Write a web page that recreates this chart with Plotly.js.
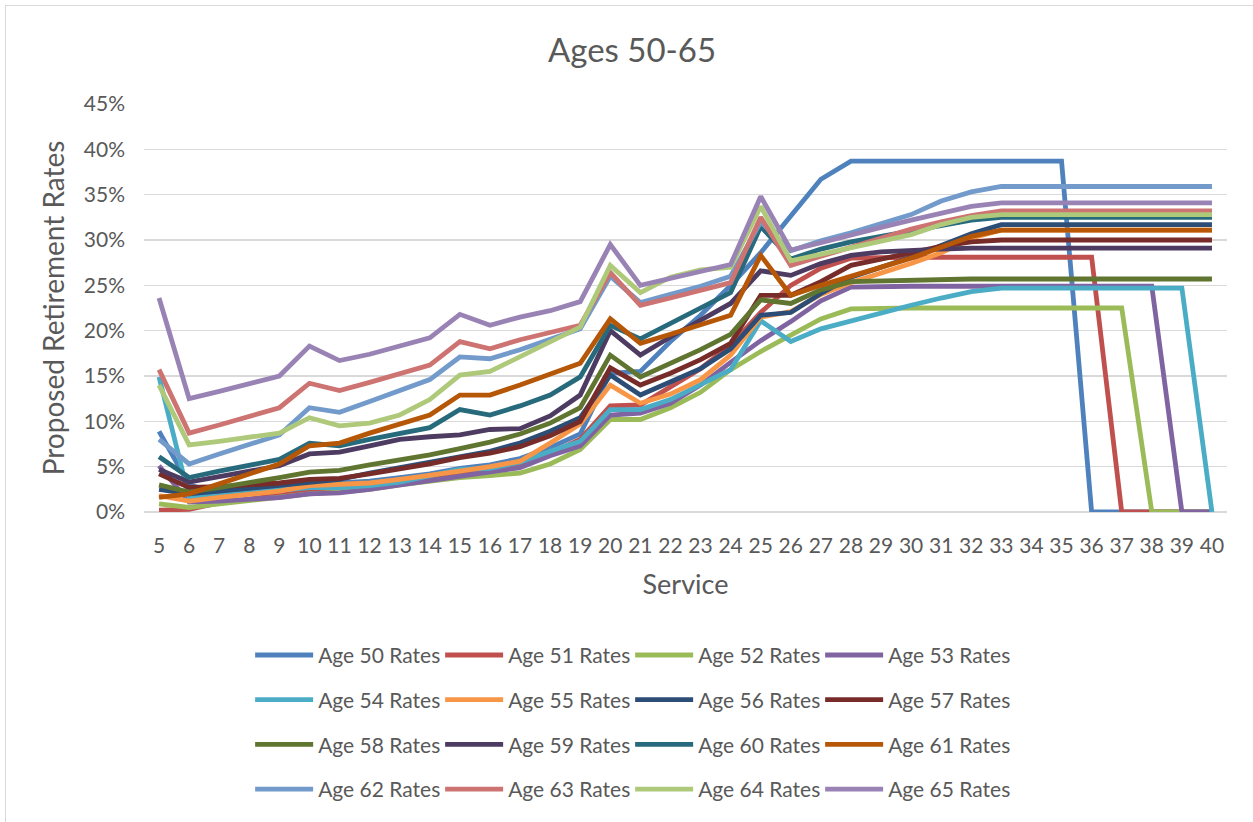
<!DOCTYPE html>
<html><head><meta charset="utf-8">
<script src="https://cdn.plot.ly/plotly-3.0.1.min.js"></script>
<style>
html,body{margin:0;padding:0;background:#fff;}
#chart{width:1253px;height:822px;position:absolute;left:0;top:0;}
.bl{position:absolute;background:#d9d9d9;}
</style>
</head><body>
<div class="bl" style="left:5px;top:5px;width:1px;height:817px"></div>
<div class="bl" style="left:5px;top:5px;width:1248px;height:1px"></div>
<div id="chart"></div>
<script>
const service = [5,6,7,8,9,10,11,12,13,14,15,16,17,18,19,20,21,22,23,24,25,26,27,28,29,30,31,32,33,34,35,36,37,38,39,40];
const serviceLabels = ["5","6","7","8","9","10","11","12","13","14","15","16","17","18","19","20","21","22","23","24","25","26","27","28","29","30","31","32","33","34","35","36","37","38","39","40"];
const seriesNames = ["Age 50 Rates","Age 51 Rates","Age 52 Rates","Age 53 Rates","Age 54 Rates","Age 55 Rates","Age 56 Rates","Age 57 Rates","Age 58 Rates","Age 59 Rates","Age 60 Rates","Age 61 Rates","Age 62 Rates","Age 63 Rates","Age 64 Rates","Age 65 Rates"];
const seriesColors = ["#4F81BD","#C0504D","#9BBB59","#8064A2","#4BACC6","#F79646","#2C4D75","#772C2A","#5F7530","#4D3B62","#276A7C","#B65708","#729ACA","#CD7371","#AFC97A","#9983B5"];

// rates in percent
const age50 = [8.9,3.0,2.0,2.4,2.8,3.1,3.2,3.4,3.8,4.2,4.8,5.2,5.9,7.1,8.6,15.3,15.5,18.8,21.7,25.0,28.6,32.6,36.7,38.7,38.7,38.7,38.7,38.7,38.7,38.7,38.7,0,0,0,0,0];
const age51 = [0.2,0.3,1.0,1.4,1.8,2.3,2.5,2.8,3.2,3.8,4.4,4.6,5.2,6.5,8.0,11.7,11.8,13.8,15.8,18.4,22.0,25.0,26.9,28.0,28.1,28.1,28.1,28.1,28.1,28.1,28.1,28.1,0,0,0,0];
const age52 = [0.9,0.5,0.9,1.3,1.6,2.0,2.2,2.5,3.0,3.4,3.8,4.0,4.3,5.3,6.9,10.2,10.2,11.5,13.2,15.7,17.7,19.5,21.3,22.4,22.5,22.5,22.5,22.5,22.5,22.5,22.5,22.5,22.5,0,0,0];
const age53 = [5.1,1.1,1.2,1.4,1.6,2.0,2.1,2.5,3.0,3.5,4.0,4.4,4.9,6.2,7.3,10.7,10.9,12.0,14.0,16.5,18.9,21.0,23.3,24.8,24.9,24.9,24.9,24.9,24.9,24.9,24.9,24.9,24.9,24.9,0,0];
const age54 = [14.9,1.6,1.8,2.1,2.4,2.7,2.7,2.9,3.3,4.0,4.7,4.8,5.5,6.7,7.8,11.3,11.3,12.4,14.0,15.7,21.1,18.8,20.2,21.1,22.0,22.8,23.6,24.3,24.7,24.7,24.7,24.7,24.7,24.7,24.7,0];
const age55 = [1.8,1.2,1.6,1.9,2.3,2.9,3.0,3.2,3.6,4.0,4.5,5.0,5.6,7.6,9.7,14.0,12.0,13.0,14.6,17.3,21.5,22.1,24.0,25.3,26.3,27.4,28.6,30.2,31.1,31.1,31.1,31.1,31.1,31.1,31.1,31.1];
const age56 = [2.5,2.0,2.3,2.6,2.9,3.3,3.6,4.3,4.9,5.5,6.2,6.7,7.6,8.9,10.4,15.1,12.9,14.3,15.8,18.0,21.7,22.0,24.1,25.9,27.0,28.1,29.4,30.7,31.7,31.7,31.7,31.7,31.7,31.7,31.7,31.7];
const age57 = [4.2,2.7,2.8,3.0,3.2,3.6,3.7,4.2,4.7,5.3,6.0,6.5,7.2,8.4,10.0,15.9,14.0,15.3,16.8,18.6,23.9,23.9,25.4,27.2,27.9,28.6,29.3,29.8,30.0,30.0,30.0,30.0,30.0,30.0,30.0,30.0];
const age58 = [3.0,2.2,2.7,3.2,3.8,4.4,4.6,5.2,5.7,6.3,7.0,7.7,8.6,9.8,11.5,17.3,14.9,16.4,17.9,19.6,23.4,23.0,24.5,25.4,25.5,25.5,25.6,25.7,25.7,25.7,25.7,25.7,25.7,25.7,25.7,25.7];
const age59 = [4.7,3.3,3.9,4.5,5.1,6.4,6.6,7.3,8.0,8.3,8.5,9.1,9.2,10.6,12.9,20.0,17.3,19.3,21.2,23.0,26.6,26.1,27.4,28.3,28.7,28.9,29.0,29.1,29.1,29.1,29.1,29.1,29.1,29.1,29.1,29.1];
const age60 = [6.1,3.8,4.5,5.1,5.8,7.6,7.3,8.0,8.7,9.3,11.3,10.7,11.7,12.9,14.9,20.6,19.1,20.8,22.6,24.2,31.5,27.9,29.0,29.8,30.4,31.0,31.6,32.2,32.5,32.5,32.5,32.5,32.5,32.5,32.5,32.5];
const age61 = [1.6,2.0,3.1,4.2,5.3,7.3,7.6,8.7,9.7,10.7,12.9,12.9,14.0,15.2,16.4,21.3,18.6,19.6,20.6,21.7,28.3,23.9,25.0,26.0,27.0,28.0,29.2,30.4,31.1,31.1,31.1,31.1,31.1,31.1,31.1,31.1];
const age62 = [8.0,5.3,6.4,7.4,8.5,11.5,11.0,12.2,13.4,14.6,17.1,16.9,17.9,19.0,20.2,26.0,23.1,24.0,24.9,26.0,32.0,28.8,29.9,30.8,31.8,32.8,34.3,35.3,35.9,35.9,35.9,35.9,35.9,35.9,35.9,35.9];
const age63 = [15.7,8.7,9.6,10.5,11.5,14.2,13.4,14.3,15.2,16.2,18.8,18.0,19.0,19.8,20.6,26.4,22.8,23.6,24.4,25.3,32.5,27.2,28.2,29.2,30.2,31.2,32.0,32.7,33.2,33.2,33.2,33.2,33.2,33.2,33.2,33.2];
const age64 = [14.0,7.4,7.8,8.3,8.7,10.4,9.5,9.8,10.7,12.4,15.1,15.5,17.1,18.8,20.4,27.2,24.2,25.9,26.7,27.0,33.7,27.7,28.4,29.1,29.9,30.6,31.7,32.5,32.8,32.8,32.8,32.8,32.8,32.8,32.8,32.8];
const age65 = [23.6,12.5,13.3,14.2,15.0,18.3,16.7,17.4,18.3,19.2,21.8,20.6,21.5,22.2,23.2,29.5,25.0,25.8,26.6,27.3,34.8,28.9,29.7,30.6,31.4,32.2,32.9,33.7,34.1,34.1,34.1,34.1,34.1,34.1,34.1,34.1];

const allSeries = [age50,age51,age52,age53,age54,age55,age56,age57,age58,age59,age60,age61,age62,age63,age64,age65];
const legendIds = ['legend','legend2','legend3','legend4'];

const traces = allSeries.map((vals, i) => ({
  type: 'scatter', mode: 'lines',
  x: service, y: vals,
  name: seriesNames[i],
  line: {color: seriesColors[i], width: 4.8, shape: 'linear'},
  legend: legendIds[Math.floor(i / 4)],
  hoverinfo: 'x+y+name'
}));

const FONT = 'Lato, Carlito, "Liberation Sans", sans-serif';
const legendRowY = [-0.3514, -0.4609, -0.5705, -0.6799];
function mkLegend(k) {
  return {
    orientation: 'h', x: 0.098, xanchor: 'left', y: legendRowY[k], yanchor: 'middle',
    font: {family: FONT, size: 21, color: '#595959'},
    bgcolor: 'rgba(0,0,0,0)', itemwidth: 58, entrywidth: 117, entrywidthmode: 'pixels',
    traceorder: 'normal'
  };
}

const layout = {
  width: 1253, height: 822,
  margin: {l: 144, r: 26, t: 104, b: 307},
  paper_bgcolor: 'rgba(0,0,0,0)', plot_bgcolor: 'rgba(0,0,0,0)',
  font: {family: FONT, color: '#595959'},
  title: {text: 'Ages 50-65', x: 632/1253, xref: 'container', xanchor: 'center', y: 1 - 50/822, yref: 'container', yanchor: 'middle',
          font: {family: FONT, size: 33, color: '#595959'}},
  xaxis: {
    range: [4.5, 40.5], tickmode: 'array', tickvals: service, ticktext: serviceLabels,
    showgrid: false, zeroline: false, showline: false, ticks: '',
    tickfont: {family: FONT, size: 21, color: '#595959'}, ticklabelstandoff: 19,
    title: {text: 'Service', font: {family: FONT, size: 27, color: '#595959'}, standoff: 19},
    fixedrange: true
  },
  yaxis: {
    range: [0, 45], dtick: 5, tick0: 0, ticksuffix: '%',
    showgrid: true, gridcolor: '#d9d9d9', gridwidth: 1.5,
    zeroline: true, zerolinecolor: '#d9d9d9', zerolinewidth: 1.5, showline: false, ticks: '',
    tickfont: {family: FONT, size: 21, color: '#595959'}, ticklabelstandoff: 18,
    title: {text: 'Proposed Retirement Rates', font: {family: FONT, size: 28, color: '#595959'}, standoff: 10},
    fixedrange: true
  },
  showlegend: true,
  legend: mkLegend(0), legend2: mkLegend(1), legend3: mkLegend(2), legend4: mkLegend(3)
};

Plotly.newPlot('chart', traces, layout, {displayModeBar: false, staticPlot: true});
</script>
</body></html>
